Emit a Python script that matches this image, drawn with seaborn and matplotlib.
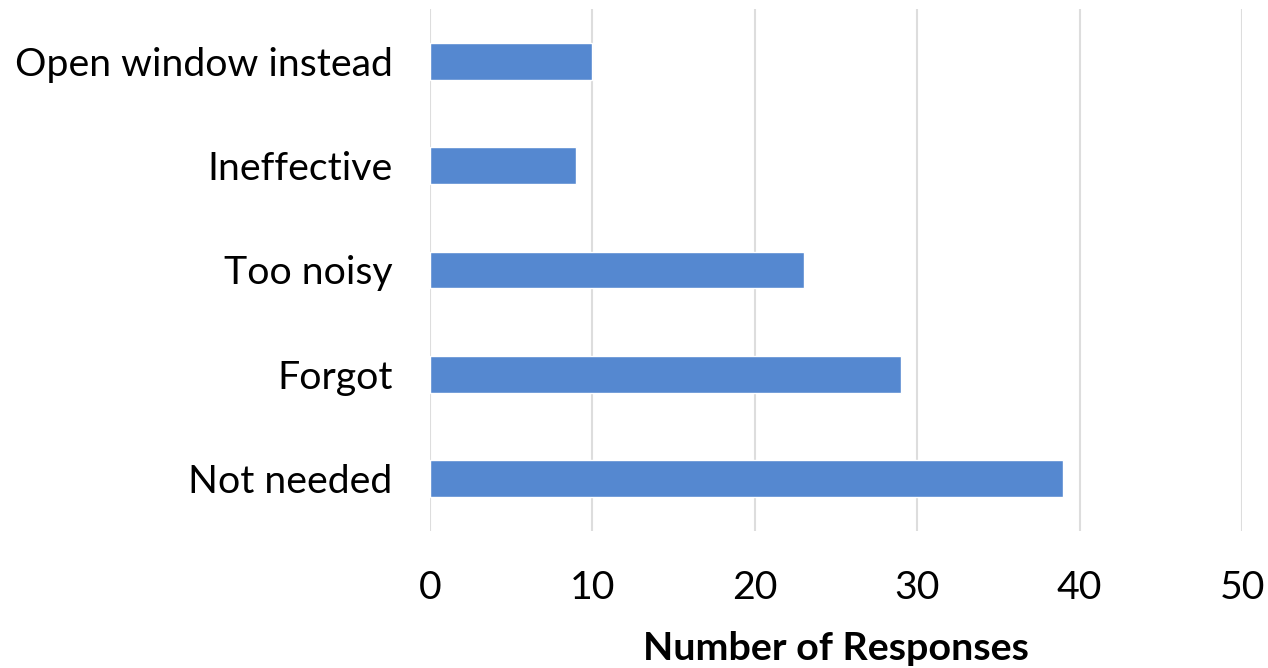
import matplotlib
matplotlib.use("Agg")
import matplotlib.pyplot as plt
import seaborn as sns
import pandas as pd

categories = ["Open window instead", "Ineffective", "Too noisy", "Forgot", "Not needed"]
responses = [10, 9, 23, 29, 39]
x_ticks = [0, 10, 20, 30, 40, 50]

sns.set_theme(style="white")
plt.rcParams['font.family'] = ['Lato', 'DejaVu Sans']

df = pd.DataFrame({"category": categories, "responses": responses})

fig = plt.figure(figsize=(12.68, 6.68), dpi=100)
ax = fig.add_axes([430/1268, 1 - 531/668, (1242-430)/1268, (531-9)/668])
sns.barplot(data=df, x="responses", y="category", orient="h", color="#5588D0",
            width=0.354, saturation=1, ax=ax)
ax.set_xlim(0, 50)
ax.set_xticks(x_ticks)
ax.set_ylim(4.5, -0.5)
ax.grid(axis="x", color="#DDDDDD", linewidth=1.5)
ax.set_axisbelow(True)
for s in ax.spines.values():
    s.set_visible(False)
ax.tick_params(axis="both", length=0, labelsize=28.3, colors="black")
ax.tick_params(axis="x", pad=28)
ax.tick_params(axis="y", pad=27)
ax.set_ylabel("")
ax.set_xlabel("Number of Responses", fontsize=28.4, fontweight="bold",
              labelpad=18, color="black")
fig.savefig("out.png", dpi=100)
